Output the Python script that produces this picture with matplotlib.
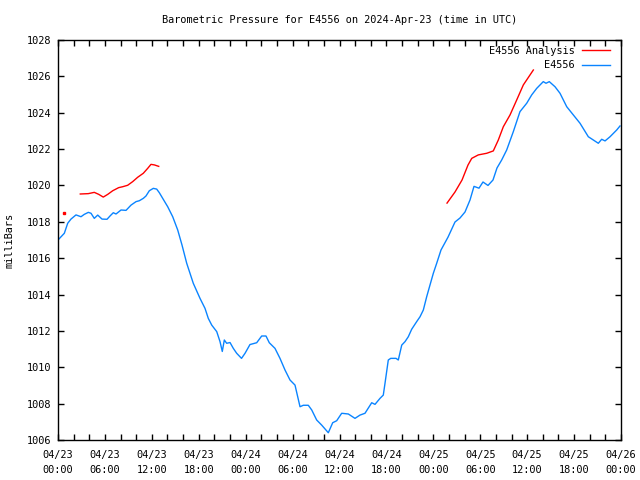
import numpy as np
import matplotlib
matplotlib.use("Agg")
import matplotlib.pyplot as plt
from matplotlib.ticker import MultipleLocator, FixedLocator
from datetime import datetime, timedelta

# Hours since 2024-04-23 00:00 UTC
obs_hours = [0.0, 0.81, 1.24, 1.66, 2.30, 2.94, 3.36, 3.88, 4.22, 4.64, 5.08, 5.63, 6.27, 6.65,
             7.07, 7.42, 8.06, 8.70, 9.34, 9.98, 10.40, 10.91, 11.25, 11.68, 12.19, 12.62, 12.96,
             13.39, 14.03, 14.67, 15.31, 15.86, 16.46, 17.30, 18.16, 18.80, 19.22, 19.66, 20.30,
             20.72, 21.01, 21.27, 21.57, 22.0, 22.42, 22.85, 23.47, 23.92, 24.55, 25.41, 26.05,
             26.60, 27.02, 27.75, 28.39, 29.03, 29.67, 30.31, 30.95, 31.37, 32.01, 32.45, 33.08,
             33.72, 34.57, 35.13, 35.64, 36.28, 37.13, 37.98, 38.62, 39.26, 40.12, 40.54, 41.18,
             41.60, 41.82, 42.24, 42.55, 43.23, 43.52, 43.96, 44.38, 44.80, 45.23, 45.87, 46.30,
             46.72, 47.15, 47.57, 48.0, 48.43, 48.98, 49.88, 50.77, 51.41, 52.05, 52.69, 53.20,
             53.84, 54.35, 54.99, 55.63, 56.14, 56.74, 57.38, 58.23, 59.08, 59.94, 60.58, 61.22,
             62.06, 62.41, 62.83, 63.56, 64.20, 65.06, 65.90, 66.76, 67.82, 68.46, 69.10, 69.53,
             69.96, 70.60, 71.45, 71.87]
obs_mb = [1017.0, 1017.37, 1017.92, 1018.15, 1018.38, 1018.28, 1018.41, 1018.52, 1018.47, 1018.19,
          1018.37, 1018.15, 1018.14, 1018.32, 1018.50, 1018.43, 1018.65, 1018.63, 1018.92, 1019.11,
          1019.16, 1019.29, 1019.42, 1019.71, 1019.84, 1019.80, 1019.60, 1019.29, 1018.83, 1018.28,
          1017.55, 1016.72, 1015.72, 1014.62, 1013.79, 1013.24, 1012.69, 1012.32, 1011.96, 1011.41,
          1010.87, 1011.5, 1011.32, 1011.36, 1011.04, 1010.77, 1010.49, 1010.77, 1011.25, 1011.35,
          1011.72, 1011.72, 1011.35, 1011.04, 1010.49, 1009.85, 1009.3, 1009.02, 1007.83, 1007.91,
          1007.91, 1007.65, 1007.1, 1006.82, 1006.4, 1006.95, 1007.06, 1007.47, 1007.43, 1007.19,
          1007.37, 1007.47, 1008.05, 1007.96, 1008.29, 1008.47, 1009.12, 1010.4, 1010.49, 1010.49,
          1010.4, 1011.22, 1011.41, 1011.68, 1012.09, 1012.51, 1012.78, 1013.15, 1013.88, 1014.52,
          1015.17, 1015.72, 1016.45, 1017.16, 1017.99, 1018.21, 1018.54, 1019.2, 1019.95, 1019.85,
          1020.19, 1020.0, 1020.3, 1020.96, 1021.4, 1021.95, 1022.96, 1024.06, 1024.52, 1024.98,
          1025.34, 1025.71, 1025.62, 1025.71, 1025.43, 1025.07, 1024.33, 1023.88, 1023.42, 1022.68,
          1022.5, 1022.32, 1022.54, 1022.45, 1022.68, 1023.05, 1023.27]

# Analysis series (NaN marks gaps)
ana_hours = [0.81, 1.5,
             2.85, 3.88, 4.64, 5.21, 5.79, 6.36, 7.0, 7.76, 8.27, 8.91, 9.55, 10.19, 10.91,
             11.47, 11.89, 12.32, 12.88, 20.0,
             49.75, 50.77, 51.67, 52.43, 52.91, 53.75, 54.83, 55.67, 56.31, 56.95, 57.81,
             58.66, 59.51, 60.79]
ana_mb = [1018.48, np.nan,
          1019.53, 1019.55, 1019.62, 1019.51, 1019.36, 1019.51, 1019.71, 1019.88, 1019.93,
          1020.01, 1020.21, 1020.45, 1020.67, 1020.94, 1021.16, 1021.13, 1021.05, np.nan,
          1019.03, 1019.64, 1020.3, 1021.12, 1021.49, 1021.68, 1021.77, 1021.9, 1022.5,
          1023.23, 1023.88, 1024.7, 1025.53, 1026.35]

start = datetime(2024, 4, 23, 0, 0)
label_hours = list(range(0, 73, 6))
tick_labels = [(start + timedelta(hours=h)).strftime("%m/%d\n%H:%M") for h in label_hours]
y_ticks = list(range(1006, 1029, 2))

RED = "#ff0000"
BLUE = "#0a84ff"
FONT = "DejaVu Sans Mono"
FS = 7.4

fig = plt.figure(figsize=(6.4, 4.8), dpi=100)
ax = fig.add_axes([58 / 640, 40 / 480, 563 / 640, 400 / 480])

ax.plot(ana_hours, ana_mb, color=RED, lw=1.0, label="E4556 Analysis")
# isolated analysis points (no neighbours) drawn as a dot
am = np.array(ana_mb)
for i, v in enumerate(am):
    prev_nan = i == 0 or np.isnan(am[i - 1])
    next_nan = i == len(am) - 1 or np.isnan(am[i + 1])
    if not np.isnan(v) and prev_nan and next_nan:
        ax.plot([ana_hours[i]], [v], marker="s", ms=1.5, color=RED, lw=0)
ax.plot(obs_hours, obs_mb, color=BLUE, lw=1.0, label="E4556")

ax.set_xlim(0, 72)
ax.set_ylim(1006, 1028)
ax.xaxis.set_major_locator(FixedLocator(label_hours))
ax.xaxis.set_minor_locator(MultipleLocator(2))
ax.set_xticklabels(tick_labels, fontfamily=FONT, fontsize=FS, linespacing=1.65)
ax.set_yticks(y_ticks)
ax.set_yticklabels([str(v) for v in y_ticks], fontfamily=FONT, fontsize=FS)
ax.tick_params(which="both", direction="in", length=4, width=1, top=True, right=True,
               pad=5, colors="black")
ax.tick_params(axis="x", which="major", pad=7)
for s in ax.spines.values():
    s.set_linewidth(1)

ax.set_ylabel("milliBars", fontfamily=FONT, fontsize=FS, labelpad=9)
fig.text(339.5 / 640, 1 - 20 / 480, "Barometric Pressure for E4556 on 2024-Apr-23 (time in UTC)",
         ha="center", va="center", fontfamily=FONT, fontsize=FS)

leg = ax.legend(loc="upper right", bbox_to_anchor=((610 - 58) / 563, 1 - 6 / 400),
                frameon=False, markerfirst=False, handlelength=2.7,
                prop={"family": FONT, "size": FS}, borderaxespad=0, borderpad=0,
                labelspacing=0.4, handletextpad=0.7)

fig.savefig("out.png", dpi=100)
